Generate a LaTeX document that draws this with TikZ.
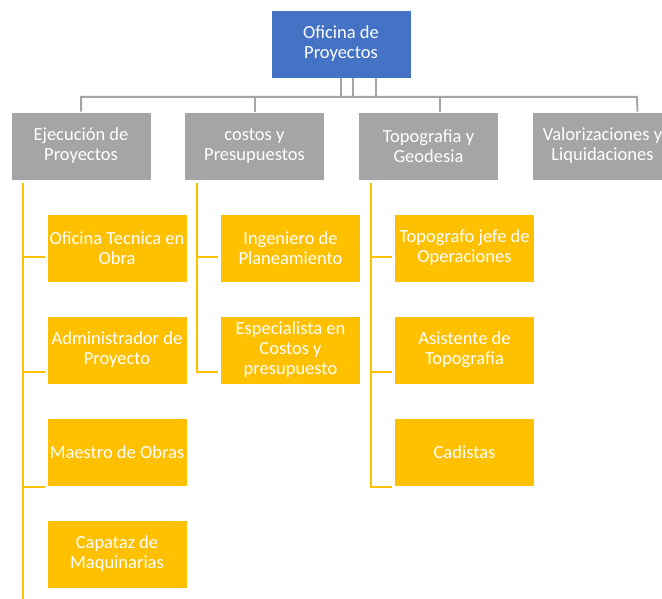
\documentclass[tikz,border=0pt]{standalone}
\usepackage{fontspec}
\setmainfont{Carlito}
\usetikzlibrary{positioning}
\definecolor{jefe}{HTML}{4472C4}
\definecolor{area}{HTML}{A5A5A5}
\definecolor{cargo}{HTML}{FFC000}
\tikzstyle{block0} = [rectangle, draw=white, line width=0.8pt, fill=jefe, text=white,
text width=140pt, align=flush center, inner sep=0pt, minimum width=140pt, minimum height=68pt,
font=\fontsize{18.5}{20}\selectfont]
\tikzstyle{block1} = [block0, fill=area]
\tikzstyle{block2} = [block0, fill=cargo]
\tikzstyle{line0} = [draw, area, line width=2pt]
\tikzstyle{line1} = [draw, cargo, line width=2pt, shorten >=2pt]
\hyphenpenalty=10000
\begin{document}
\begin{tikzpicture}[x=1pt, y=1pt]
\useasboundingbox (0,0) rectangle (662,-599);
\clip (0,0) rectangle (662,-599);
 \node [block0] (OP) at (341,-44) {Oficina de Proyectos};
 \node [block1] (EP) at (81,-146) {Ejecución de Proyectos};
 \node [block1, right of=EP, node distance=173.5pt] (CP) {costos y Presupuestos};
 \node [block1, right of=CP, node distance=174pt] (TG) {Topografia y Geodesia};
 \node [block1, right of=TG, node distance=174pt] (VL) {Valorizaciones y Liquidaciones};
 % cargos
 \node [block2, below of=EP, xshift=36pt, node distance=102pt] (OT) {Oficina Tecnica en Obra};
 \node [block2, below of=OT, node distance=102pt] (AP) {Administrador de Proyecto};
 \node [block2, below of=AP, node distance=102pt] (MO) {Maestro de Obras};
 \node [block2, below of=MO, node distance=102pt] (CM) {Capataz de Maquinarias};
 \node [block2, below of=CP, xshift=36pt, node distance=102pt] (IP) {Ingeniero de Planeamiento};
 \node [block2, below of=IP, node distance=102pt] (EC) {Especialista en Costos y presupuesto};
 \node [block2, below of=TG, xshift=36pt, node distance=102pt] (TJ) {Topografo jefe de Operaciones};
 \node [block2, below of=TJ, node distance=102pt] (AT) {Asistente de Topografia};
 \node [block2, below of=AT, node distance=102pt] (CD) {Cadistas};
 % lineas grises
 \coordinate (bus) at (637,-97);
 \path [line0] (OP.south) -- (OP.south |- bus);
 \path [line0] ([xshift=12pt]OP.south) -- ([xshift=12pt]OP.south |- bus);
 \path [line0] ([xshift=35pt]OP.south) -- ([xshift=35pt]OP.south |- bus);
 \path [line0] (EP.north) |- (bus) -- ([xshift=35pt]VL.north);
 \path [line0] (CP.north) -- (CP.north |- bus);
 \path [line0] ([xshift=11pt]TG.north) -- ([xshift=11pt]TG.north |- bus);
 % lineas amarillas
 \coordinate (h1) at (0,-257);
 \coordinate (h2) at (0,-372);
 \coordinate (h3) at (0,-487);
 \coordinate (fondo) at (0,-599);
 \path [line1, shorten >=0pt] ([xshift=12pt,yshift=-3pt]EP.south west) -- ([xshift=12pt]EP.south west |- fondo);
 \path [line1] ([xshift=12pt]EP.south west |- h1) -- (OT.west |- h1);
 \path [line1] ([xshift=12pt]EP.south west |- h2) -- (AP.west |- h2);
 \path [line1] ([xshift=12pt]EP.south west |- h3) -- (MO.west |- h3);
 \path [line1] ([xshift=13pt,yshift=-3pt]CP.south west) |- (EC.west |- h2);
 \path [line1] ([xshift=13pt]CP.south west |- h1) -- (IP.west |- h1);
 \path [line1] ([xshift=13pt,yshift=-3pt]TG.south west) |- (CD.west |- h3);
 \path [line1] ([xshift=13pt]TG.south west |- h1) -- (TJ.west |- h1);
 \path [line1] ([xshift=13pt]TG.south west |- h2) -- (AT.west |- h2);
\end{tikzpicture}
\end{document}
